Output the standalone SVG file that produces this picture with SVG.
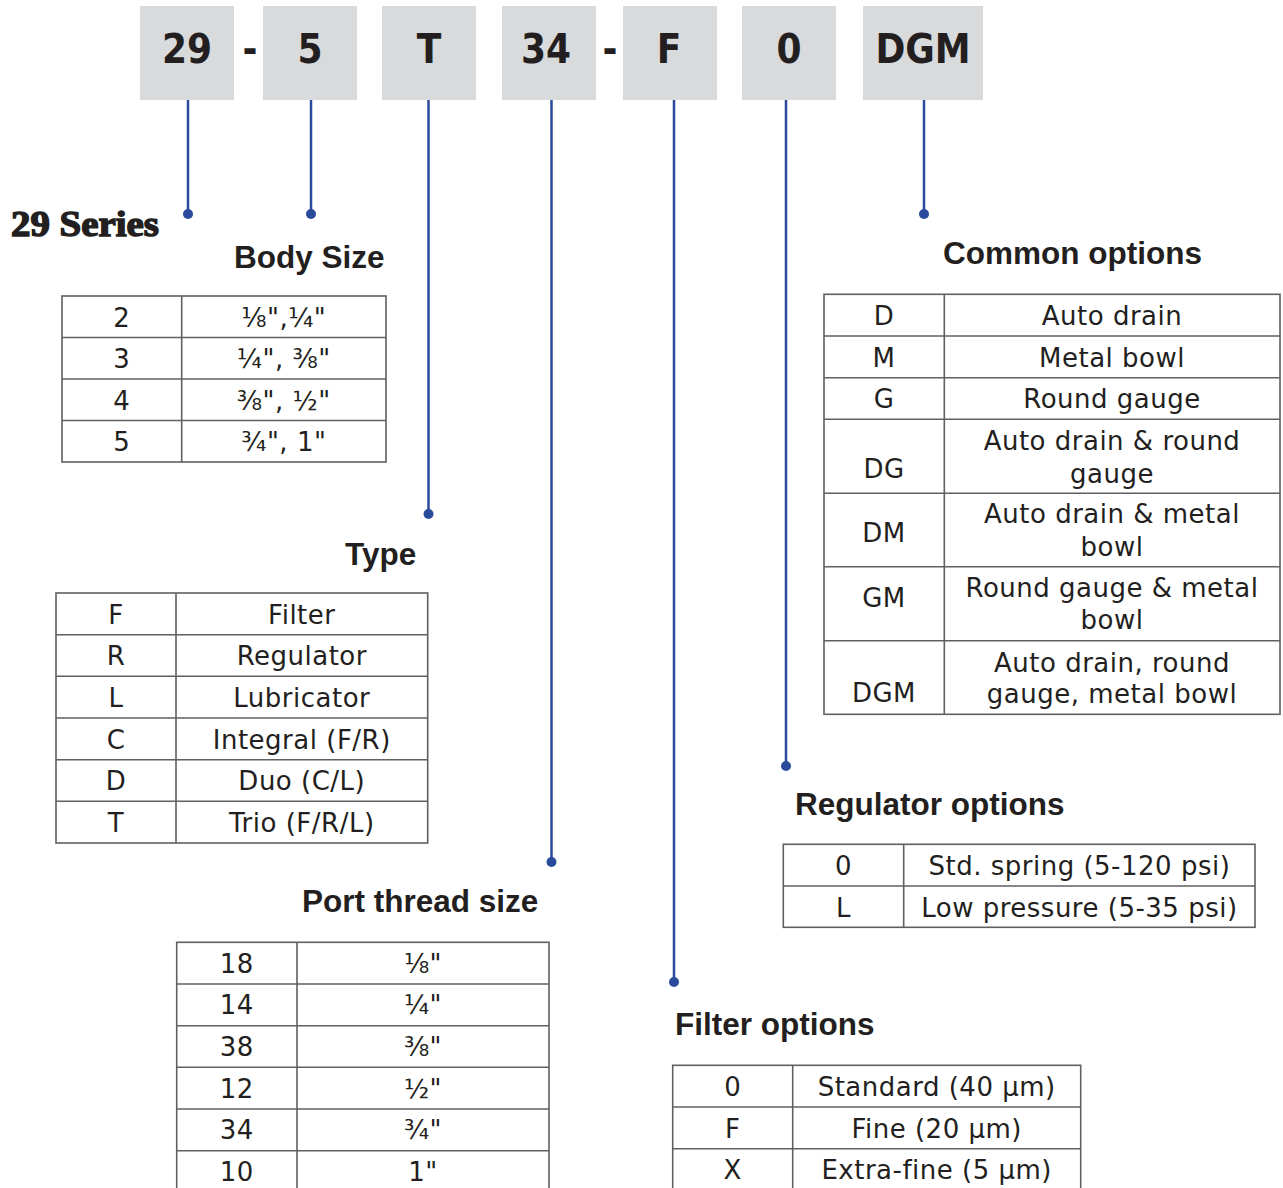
<svg xmlns="http://www.w3.org/2000/svg" width="1283" height="1188" viewBox="0 0 1283 1188">
<style>
.box{fill:#d9dadc}
.code{font-family:"DejaVu Sans Condensed","DejaVu Sans",sans-serif;font-stretch:condensed;font-weight:bold;font-size:40px;fill:#231f20;text-anchor:middle}
.hdr{font-family:"Liberation Sans",Arial,sans-serif;font-weight:bold;font-size:31.5px;fill:#231f20}
.cell{font-family:"DejaVu Sans",Verdana,sans-serif;font-size:26px;letter-spacing:0.5px;fill:#231f20;text-anchor:middle}
.grid{fill:none;stroke:#606060;stroke-width:1.6}
.conn line{stroke:#2a4a9c;stroke-width:2.5}
.conn circle{fill:#2a4a9c}
.series{font-family:"Liberation Serif","Times New Roman",serif;font-weight:900;font-size:35px;fill:#231f20;stroke:#231f20;stroke-width:1.4}
</style>
<rect width="1283" height="1188" fill="#ffffff"/>

<g id="code-29"><rect class="box" x="140" y="6" width="94" height="94"/><text class="code" x="187" y="63">29</text></g>
<text class="code" x="250" y="63">-</text>
<g id="code-5"><rect class="box" x="263" y="6" width="94" height="94"/><text class="code" x="310" y="63">5</text></g>
<g id="code-T"><rect class="box" x="382" y="6" width="94" height="94"/><text class="code" x="429" y="63">T</text></g>
<g id="code-34"><rect class="box" x="502" y="6" width="94" height="94"/><text class="code" x="546" y="63">34</text></g>
<text class="code" x="610" y="63">-</text>
<g id="code-F"><rect class="box" x="623" y="6" width="94" height="94"/><text class="code" x="669" y="63">F</text></g>
<g id="code-0"><rect class="box" x="742" y="6" width="94" height="94"/><text class="code" x="789" y="63">0</text></g>
<g id="code-DGM"><rect class="box" x="863" y="6" width="120" height="94"/><text class="code" x="923" y="63">DGM</text></g>

<g id="connectors" class="conn">
<line x1="188" y1="100" x2="188" y2="214"/><circle cx="188" cy="214" r="5"/>
<line x1="311" y1="100" x2="311" y2="214"/><circle cx="311" cy="214" r="5"/>
<line x1="428.5" y1="100" x2="428.5" y2="514"/><circle cx="428.5" cy="514" r="5"/>
<line x1="551.5" y1="100" x2="551.5" y2="862"/><circle cx="551.5" cy="862" r="5"/>
<line x1="674" y1="100" x2="674" y2="982"/><circle cx="674" cy="982" r="5"/>
<line x1="786" y1="100" x2="786" y2="766"/><circle cx="786" cy="766" r="5"/>
<line x1="924" y1="100" x2="924" y2="214"/><circle cx="924" cy="214" r="5"/>
</g>

<g id="series"><text class="series" x="11" y="236" textLength="148" lengthAdjust="spacingAndGlyphs">29 Series</text></g>

<g id="body-size">
<text class="hdr" x="234" y="268">Body Size</text>
<rect class="grid" x="62" y="296" width="324" height="166"/>
<path class="grid" d="M181.7 296V462M62 337.5H386M62 379H386M62 420.5H386"/>
<text class="cell" x="121.8" y="326.5">2</text><text class="cell" x="283.8" y="326.5">⅛",¼"</text>
<text class="cell" x="121.8" y="368">3</text><text class="cell" x="283.8" y="368">¼", ⅜"</text>
<text class="cell" x="121.8" y="409.5">4</text><text class="cell" x="283.8" y="409.5">⅜", ½"</text>
<text class="cell" x="121.8" y="451">5</text><text class="cell" x="283.8" y="451">¾", 1"</text>
</g>

<g id="type">
<text class="hdr" x="345" y="565">Type</text>
<rect class="grid" x="56" y="593" width="371.7" height="250"/>
<path class="grid" d="M176 593V843M56 634.7H427.7M56 676.3H427.7M56 718H427.7M56 759.7H427.7M56 801.3H427.7"/>
<text class="cell" x="116" y="623.5">F</text><text class="cell" x="301.8" y="623.5">Filter</text>
<text class="cell" x="116" y="665.2">R</text><text class="cell" x="301.8" y="665.2">Regulator</text>
<text class="cell" x="116" y="706.8">L</text><text class="cell" x="301.8" y="706.8">Lubricator</text>
<text class="cell" x="116" y="748.5">C</text><text class="cell" x="301.8" y="748.5">Integral (F/R)</text>
<text class="cell" x="116" y="790.2">D</text><text class="cell" x="301.8" y="790.2">Duo (C/L)</text>
<text class="cell" x="116" y="831.8">T</text><text class="cell" x="301.8" y="831.8">Trio (F/R/L)</text>
</g>

<g id="port-thread">
<text class="hdr" x="302" y="912">Port thread size</text>
<rect class="grid" x="176.7" y="942.3" width="372.3" height="250"/>
<path class="grid" d="M297 942.3V1192M176.7 984H549M176.7 1025.7H549M176.7 1067.3H549M176.7 1109H549M176.7 1150.7H549"/>
<text class="cell" x="236.8" y="972.5">18</text><text class="cell" x="423" y="972.5">⅛"</text>
<text class="cell" x="236.8" y="1014.2">14</text><text class="cell" x="423" y="1014.2">¼"</text>
<text class="cell" x="236.8" y="1055.8">38</text><text class="cell" x="423" y="1055.8">⅜"</text>
<text class="cell" x="236.8" y="1097.5">12</text><text class="cell" x="423" y="1097.5">½"</text>
<text class="cell" x="236.8" y="1139.2">34</text><text class="cell" x="423" y="1139.2">¾"</text>
<text class="cell" x="236.8" y="1180.8">10</text><text class="cell" x="423" y="1180.8">1"</text>
</g>

<g id="filter-options">
<text class="hdr" x="675" y="1035">Filter options</text>
<rect class="grid" x="672.7" y="1065.3" width="408" height="125"/>
<path class="grid" d="M792.7 1065.3V1192M672.7 1107H1080.7M672.7 1148.7H1080.7"/>
<text class="cell" x="732.7" y="1096">0</text><text class="cell" x="936.7" y="1096">Standard (40 µm)</text>
<text class="cell" x="732.7" y="1137.7">F</text><text class="cell" x="936.7" y="1137.7">Fine (20 µm)</text>
<text class="cell" x="732.7" y="1179.4">X</text><text class="cell" x="936.7" y="1179.4">Extra-fine (5 µm)</text>
</g>

<g id="regulator-options">
<text class="hdr" x="795" y="815">Regulator options</text>
<rect class="grid" x="783.3" y="844.3" width="471.7" height="83"/>
<path class="grid" d="M903.7 844.3V927.3M783.3 886H1255"/>
<text class="cell" x="843.5" y="875">0</text><text class="cell" x="1079.4" y="875">Std. spring (5-120 psi)</text>
<text class="cell" x="843.5" y="916.7">L</text><text class="cell" x="1079.4" y="916.7">Low pressure (5-35 psi)</text>
</g>

<g id="common-options">
<text class="hdr" x="943" y="263.5">Common options</text>
<rect class="grid" x="824" y="294.3" width="456" height="420"/>
<path class="grid" d="M944.3 294.3V714.3M824 336H1280M824 377.7H1280M824 419.3H1280M824 493.3H1280M824 566.7H1280M824 640.7H1280"/>
<text class="cell" x="884" y="325">D</text><text class="cell" x="1112" y="325">Auto drain</text>
<text class="cell" x="884" y="366.7">M</text><text class="cell" x="1112" y="366.7">Metal bowl</text>
<text class="cell" x="884" y="408.4">G</text><text class="cell" x="1112" y="408.4">Round gauge</text>
<text class="cell" x="884" y="478">DG</text><text class="cell" x="1112" y="450">Auto drain &amp; round</text><text class="cell" x="1112" y="482.7">gauge</text>
<text class="cell" x="884" y="541.7">DM</text><text class="cell" x="1112" y="523.3">Auto drain &amp; metal</text><text class="cell" x="1112" y="556">bowl</text>
<text class="cell" x="884" y="606.7">GM</text><text class="cell" x="1112" y="596.7">Round gauge &amp; metal</text><text class="cell" x="1112" y="629.3">bowl</text>
<text class="cell" x="884" y="702">DGM</text><text class="cell" x="1112" y="671.7">Auto drain, round</text><text class="cell" x="1112" y="702.7">gauge, metal bowl</text>
</g>
</svg>
